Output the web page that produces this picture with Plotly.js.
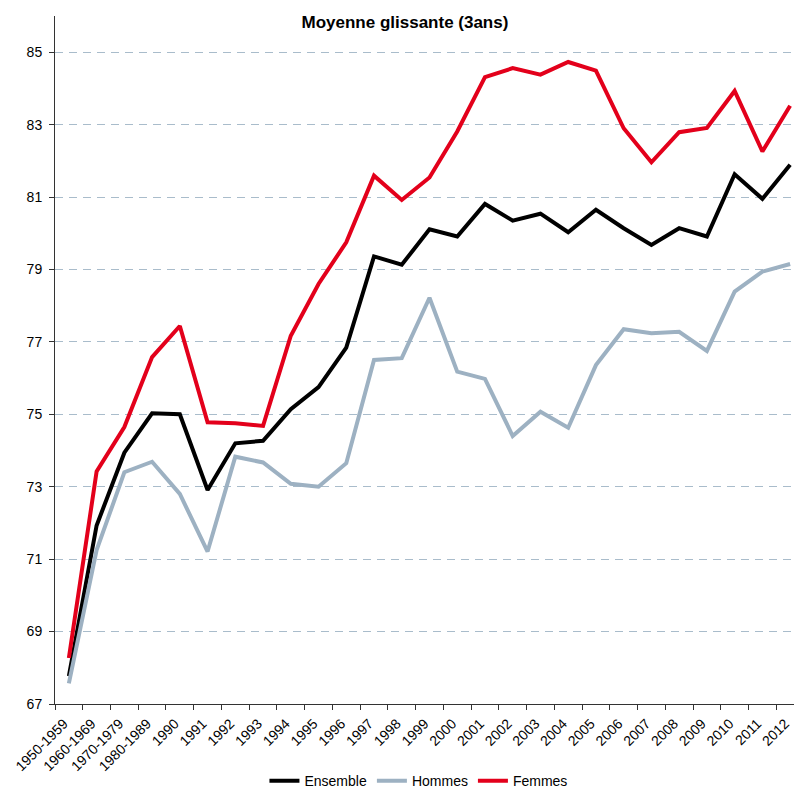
<!DOCTYPE html>
<html>
<head>
<meta charset="utf-8">
<script src="https://cdn.plot.ly/plotly-3.0.1.min.js"></script>
<style>html,body{margin:0;padding:0;background:#fff}#chart{width:794px;height:789px}</style>
</head>
<body>
<div id="chart"></div>
<script>
const categories = ["1950-1959","1960-1969","1970-1979","1980-1989","1990","1991","1992","1993","1994","1995","1996","1997","1998","1999","2000","2001","2002","2003","2004","2005","2006","2007","2008","2009","2010","2011","2012"];
const ensemble = [67.77,71.93,73.94,75.03,75.00,72.91,74.20,74.27,75.14,75.75,76.84,79.36,79.13,80.11,79.91,80.81,80.35,80.54,80.03,80.65,80.14,79.68,80.14,79.91,81.63,80.95,81.89];
const hommes = [67.57,71.25,73.40,73.69,72.80,71.21,73.83,73.67,73.08,73.00,73.65,76.50,76.55,78.22,76.18,75.98,74.40,75.07,74.63,76.36,77.35,77.24,77.28,76.75,78.39,78.94,79.15];
const femmes = [68.27,73.42,74.65,76.58,77.44,74.78,74.75,74.68,77.17,78.60,79.75,81.59,80.92,81.54,82.81,84.31,84.56,84.38,84.73,84.49,82.90,81.96,82.79,82.91,83.93,82.26,83.52];
const yTicks = [67,69,71,73,75,77,79,81,83,85];

const font = "Liberation Sans, Arial, Helvetica, sans-serif";
const traces = [
  {x: categories, y: ensemble, name: "Ensemble", type: "scatter", mode: "lines", line: {color: "#000000", width: 4}},
  {x: categories, y: hommes, name: "Hommes", type: "scatter", mode: "lines", line: {color: "#9db1c2", width: 4}},
  {x: categories, y: femmes, name: "Femmes", type: "scatter", mode: "lines", line: {color: "#e3001b", width: 4}}
];
const layout = {
  width: 794, height: 789,
  margin: {l: 55, r: 0, t: 16, b: 85, pad: 0},
  paper_bgcolor: "#ffffff", plot_bgcolor: "#ffffff",
  font: {family: font, size: 14, color: "#000"},
  title: {text: "Moyenne glissante (3ans)", font: {family: font, size: 17, weight: "bold", color: "#000"},
          xref: "container", x: 0.51, xanchor: "center", yref: "container", y: 0.972, yanchor: "middle"},
  xaxis: {type: "category", range: [-0.5, 26.14], tickson: "boundaries", ticks: "outside", ticklen: 5, tickcolor: "#333",
          tickangle: -45, ticklabelshift: -5, ticklabelstandoff: 5,
          showline: true, linecolor: "#333", linewidth: 1, showgrid: false, zeroline: false,
          tickfont: {family: font, size: 14}},
  yaxis: {range: [67, 86], tickvals: yTicks, ticktext: yTicks.map(String), ticks: "outside", ticklen: 5, tickcolor: "#333",
          ticklabelstandoff: 4,
          showline: true, linecolor: "#333", linewidth: 1, showgrid: true, gridcolor: "#a9bccb", gridwidth: 1, griddash: "8px,6px",
          zeroline: false, tickfont: {family: font, size: 14}},
  showlegend: true,
  legend: {orientation: "h", xref: "container", x: 0.527, xanchor: "center", yref: "container", y: 0.0101, yanchor: "middle",
           font: {family: font, size: 14}, itemwidth: 30, tracegroupgap: 0}
};
Plotly.newPlot("chart", traces, layout, {displayModeBar: false, staticPlot: true});
</script>
</body>
</html>
